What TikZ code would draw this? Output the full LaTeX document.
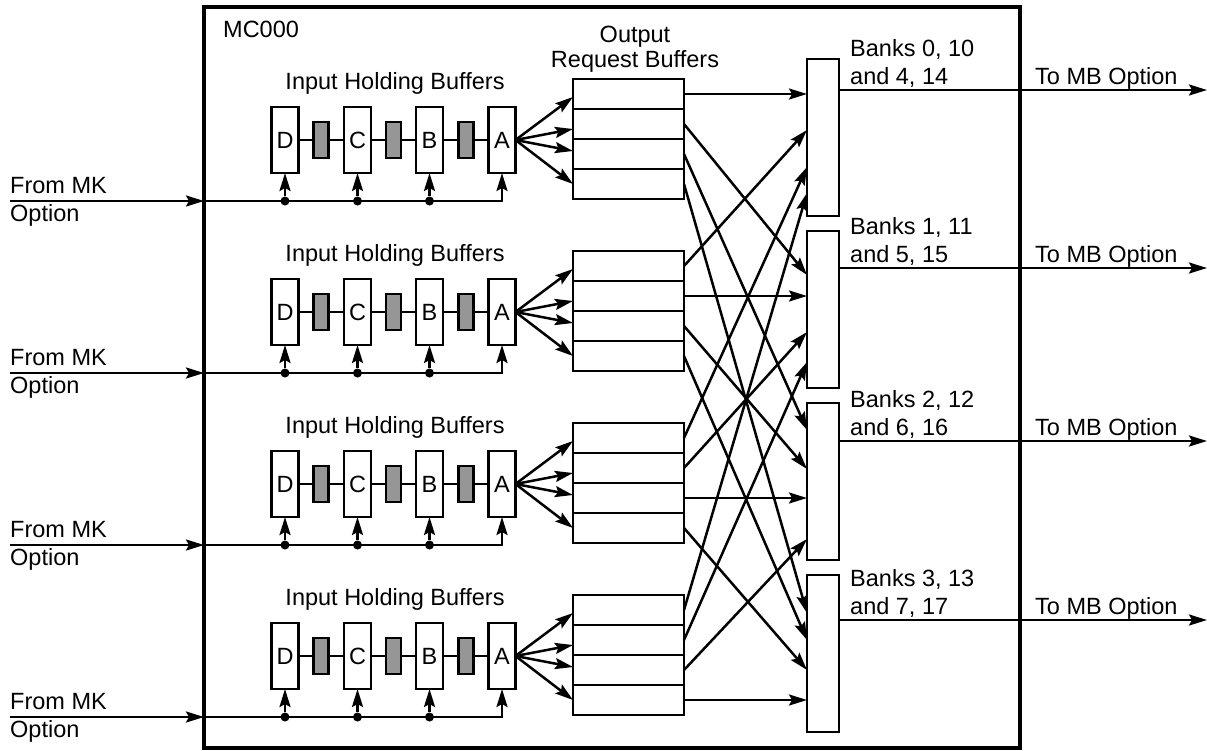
\documentclass[tikz,border=0pt]{standalone}
\usepackage{fontspec}
\setmainfont{Liberation Sans}
\usetikzlibrary{arrows.meta,calc}
\definecolor{latchgray}{RGB}{150,150,150}
\begin{document}
\begin{tikzpicture}[x=1pt,y=-1pt,
  every node/.style={font=\fontsize{23.5}{28}\selectfont},
  wire/.style={line width=2.5pt},
  arr/.style={wire,-{Stealth[length=18pt,width=11pt,inset=3pt]}},
  hold/.style={draw,line width=2.5pt,fill=white,minimum width=27pt,minimum height=66pt,inner sep=0pt,outer sep=0pt},
  latch/.style={draw,line width=2.5pt,fill=latchgray,minimum width=15pt,minimum height=36pt,inner sep=0pt,outer sep=0pt},
  slot/.style={draw,line width=2.5pt,minimum width=111pt,minimum height=30pt,inner sep=0pt,outer sep=0pt},
  bankbox/.style={draw,line width=2.5pt,minimum width=32pt,minimum height=157pt,inner sep=0pt,outer sep=0pt},
  lbl/.style={inner sep=0pt,anchor=base west},
  clbl/.style={inner sep=0pt,anchor=base},
  tap/.style={circle,fill,inner sep=0pt,minimum size=9pt}
]
\useasboundingbox (0,0) rectangle (1207,750);

% controller outline
\node[draw,line width=3.4pt,minimum width=816pt,minimum height=741pt,inner sep=0pt,outer sep=0pt] (mc) at (612,377.5) {};
\node[lbl] (mcname) at (223,37) {MC000};
\node[clbl] (obt1) at (635,42) {Output};
\node[clbl] (obt2) at (635,67) {Request Buffers};

% four input ports
\foreach \k in {1,2,3,4} {
  \pgfmathsetmacro{\dy}{172*(\k-1)}
  \node[clbl] (ihb\k) at (395,89+\dy) {Input Holding Buffers};
  \node[hold] (D\k) at (285,140+\dy) {D};
  \node[hold] (C\k) at (357.5,140+\dy) {C};
  \node[hold] (B\k) at (429.5,140+\dy) {B};
  \node[hold] (A\k) at (502,140+\dy) {A};
  \node[latch] (L\k1) at (321,140+\dy) {};
  \node[latch] (L\k2) at (393.5,140+\dy) {};
  \node[latch] (L\k3) at (466,140+\dy) {};
  \draw[wire] (D\k) -- (L\k1) -- (C\k) -- (L\k2) -- (B\k) -- (L\k3) -- (A\k);

  % incoming request bus
  \coordinate (in\k) at (10,201+\dy);
  \node[lbl] (fmk\k) at (10,193+\dy) {From MK};
  \node[lbl] (fop\k) at (10,221+\dy) {Option};
  \draw[arr] (in\k) -- (mc.west |- in\k);
  \draw[arr] (mc.west |- in\k) -| (A\k.south);
  \foreach \n in {D,C,B} {
    \node[tap] (t\n\k) at (\n\k |- in\k) {};
    \draw[arr] (t\n\k) -- (\n\k.south);
  }

  % output request buffer slots
  \foreach \r in {1,2,3,4}
    \node[slot] (ob\k-\r) at (628.5,94+30*\r-30+\dy) {};
  \foreach \r/\ty in {1/97,2/129,3/151,4/184}
    \draw[arr] (A\k.east) -- (ob\k-\r.west |- 0,\ty+\dy);

  % memory bank ports
  \node[bankbox] (bank\k) at (823,137.5+\dy) {};
}

% bank outputs and labels
\foreach \k/\ly/\first/\second in {1/90/{Banks 0, 10}/{and 4, 14},2/268/{Banks 1, 11}/{and 5, 15},3/441/{Banks 2, 12}/{and 6, 16},4/620/{Banks 3, 13}/{and 7, 17}} {
  \coordinate (out\k) at (1207,\ly);
  \draw[arr] (bank\k.east |- out\k) -- (out\k);
  \node[lbl] (bl\k a) at (850,\ly-34) {\first};
  \node[lbl] (bl\k b) at (850,\ly-6) {\second};
  \node[lbl] (mb\k) at (1035,\ly-6) {To MB Option};
}

% crossbar: slot r of every buffer feeds bank r
\foreach \r/\k/\ty in {1/1/94,1/2/130,1/3/167,1/4/193,
                       2/1/275,2/2/296,2/3/332,2/4/362,
                       3/1/430,3/2/469,3/3/498,3/4/539,
                       4/1/613,4/2/640,4/3/670,4/4/700}
  \draw[arr] (ob\k-\r.east) -- (bank\r.west |- 0,\ty);
\end{tikzpicture}
\end{document}
